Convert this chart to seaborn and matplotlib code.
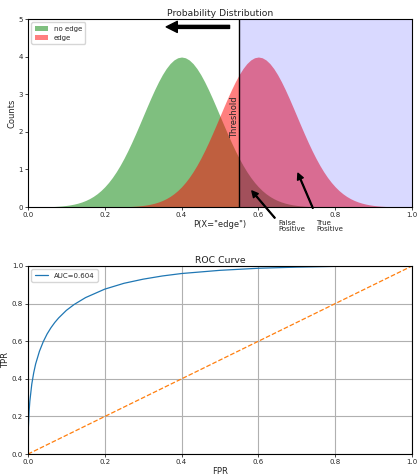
import numpy as np
import pandas as pd
import matplotlib
matplotlib.use("Agg")
import matplotlib.pyplot as plt
import seaborn as sns

x_grid = [round(i * 0.01, 2) for i in range(101)]
no_edge_density = [
    0.0013, 0.0020, 0.0029, 0.0042, 0.0061, 0.0087, 0.0123, 0.0172, 0.0238, 0.0327,
    0.0443, 0.0595, 0.0792, 0.1042, 0.1358, 0.1753, 0.2239, 0.2833, 0.3547, 0.4398,
    0.5399, 0.6562, 0.7895, 0.9405, 1.1092, 1.2952, 1.4973, 1.7137, 1.9419, 2.1785,
    2.4197, 2.6609, 2.8969, 3.1225, 3.3322, 3.5207, 3.6827, 3.8139, 3.9104, 3.9695,
    3.9894,
    3.9695, 3.9104, 3.8139, 3.6827, 3.5207, 3.3322, 3.1225, 2.8969, 2.6609, 2.4197,
    2.1785, 1.9419, 1.7137, 1.4973, 1.2952, 1.1092, 0.9405, 0.7895, 0.6562, 0.5399,
    0.4398, 0.3547, 0.2833, 0.2239, 0.1753, 0.1358, 0.1042, 0.0792, 0.0595, 0.0443,
    0.0327, 0.0238, 0.0172, 0.0123, 0.0087, 0.0061, 0.0042, 0.0029, 0.0020, 0.0013,
    0.0009, 0.0006, 0.0004, 0.0002, 0.0002, 0.0001, 0.0001, 0.0, 0.0, 0.0,
    0.0, 0.0, 0.0, 0.0, 0.0, 0.0, 0.0, 0.0, 0.0, 0.0]
edge_density = [
    0.0, 0.0, 0.0, 0.0, 0.0, 0.0, 0.0, 0.0, 0.0, 0.0,
    0.0, 0.0, 0.0, 0.0001, 0.0001, 0.0002, 0.0002, 0.0004, 0.0006, 0.0009,
    0.0013, 0.0020, 0.0029, 0.0042, 0.0061, 0.0087, 0.0123, 0.0172, 0.0238, 0.0327,
    0.0443, 0.0595, 0.0792, 0.1042, 0.1358, 0.1753, 0.2239, 0.2833, 0.3547, 0.4398,
    0.5399, 0.6562, 0.7895, 0.9405, 1.1092, 1.2952, 1.4973, 1.7137, 1.9419, 2.1785,
    2.4197, 2.6609, 2.8969, 3.1225, 3.3322, 3.5207, 3.6827, 3.8139, 3.9104, 3.9695,
    3.9894,
    3.9695, 3.9104, 3.8139, 3.6827, 3.5207, 3.3322, 3.1225, 2.8969, 2.6609, 2.4197,
    2.1785, 1.9419, 1.7137, 1.4973, 1.2952, 1.1092, 0.9405, 0.7895, 0.6562, 0.5399,
    0.4398, 0.3547, 0.2833, 0.2239, 0.1753, 0.1358, 0.1042, 0.0792, 0.0595, 0.0443,
    0.0327, 0.0238, 0.0172, 0.0123, 0.0087, 0.0061, 0.0042, 0.0029, 0.0020, 0.0013]
threshold = 0.55

fpr = [0.0, 0.0, 0.0001, 0.0005, 0.001, 0.003, 0.005, 0.01, 0.015, 0.02, 0.03, 0.04, 0.05, 0.06,
       0.07, 0.08, 0.1, 0.12, 0.15, 0.2, 0.25, 0.3, 0.35, 0.4, 0.5, 0.6, 0.7, 0.8, 0.9, 1.0]
tpr = [0.0, 0.02, 0.043, 0.099, 0.138, 0.227, 0.282, 0.372, 0.432, 0.479, 0.547, 0.598, 0.639, 0.672,
       0.700, 0.724, 0.764, 0.795, 0.832, 0.877, 0.908, 0.930, 0.947, 0.960, 0.977, 0.988, 0.994,
       0.998, 0.9995, 1.0]
auc_label = "AUC=0.604"
chance = [0.0, 1.0]

sns.set_style("ticks")
plt.rcParams.update({
    'font.family': ['DejaVu Sans'],
    'font.size': 5,
    'axes.titlesize': 6.7,
    'axes.labelsize': 6,
    'xtick.labelsize': 5,
    'ytick.labelsize': 5,
    'legend.fontsize': 5,
    'axes.linewidth': 0.8,
    'xtick.major.size': 2,
    'ytick.major.size': 2,
    'xtick.major.width': 0.6,
    'ytick.major.width': 0.6,
    'xtick.major.pad': 1.5,
    'ytick.major.pad': 1.5,
    'axes.titlepad': 2,
    'axes.labelpad': 1.5,
    'axes.edgecolor': 'black',
})

fig = plt.figure(figsize=(4.17, 4.75), dpi=100)
ax1 = fig.add_axes([0.067, 0.564, 0.921, 0.396])
ax2 = fig.add_axes([0.067, 0.044, 0.921, 0.396])

# --- top: probability distribution ---
ax1.fill_between(x_grid, no_edge_density, color='green', alpha=0.5, lw=0, label='no edge')
ax1.fill_between(x_grid, edge_density, color='red', alpha=0.5, lw=0, label='edge')
ax1.axvspan(threshold, 1.0, color='blue', alpha=0.15, lw=0)
ax1.axvline(threshold, color='black', lw=1)
ax1.text(threshold, 2.4, 'Threshold', rotation=90, ha='right', va='center', fontsize=6)
ax1.annotate('', xy=(0.36, 4.79), xytext=(0.525, 4.79),
             arrowprops=dict(facecolor='black', edgecolor='black', width=2.2, headwidth=8, headlength=8))
ax1.annotate('', xy=(0.583, 0.43), xytext=(0.643, -0.29), annotation_clip=False,
             arrowprops=dict(facecolor='black', edgecolor='black', width=0.6, headwidth=4.5, headlength=4.5))
ax1.annotate('', xy=(0.703, 0.9), xytext=(0.742, -0.03), annotation_clip=False,
             arrowprops=dict(facecolor='black', edgecolor='black', width=0.6, headwidth=4.5, headlength=4.5))
ax1.text(0.651, -0.33, 'False\nPositive', ha='left', va='top', fontsize=5, linespacing=1.0)
ax1.text(0.75, -0.33, 'True\nPositive', ha='left', va='top', fontsize=5, linespacing=1.0)
ax1.set_xlim(0, 1)
ax1.set_ylim(0, 5)
ax1.set_title('Probability Distribution')
ax1.set_xlabel('P(X="edge")')
ax1.set_ylabel('Counts')
ax1.legend(loc='upper left', handlelength=2, borderpad=0.45, labelspacing=0.45)

# --- bottom: ROC curve ---
roc = pd.DataFrame({'FPR': fpr, 'TPR': tpr})
diag = pd.DataFrame({'FPR': chance, 'TPR': chance})
sns.lineplot(data=roc, x='FPR', y='TPR', ax=ax2, color='#1f77b4', lw=0.9, label=auc_label,
             sort=False, estimator=None)
sns.lineplot(data=diag, x='FPR', y='TPR', ax=ax2, color='#ff7f0e', lw=0.9, linestyle='--',
             estimator=None)
ax2.set_xlim(0, 1)
ax2.set_ylim(0, 1)
ax2.grid(True, color='#b0b0b0', lw=0.8)
ax2.set_title('ROC Curve')
ax2.set_xlabel('FPR')
ax2.set_ylabel('TPR')
ax2.legend(loc='upper left', handlelength=2, borderpad=0.45)

fig.savefig('out.png', dpi=100)
